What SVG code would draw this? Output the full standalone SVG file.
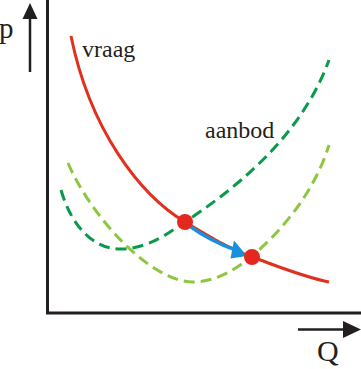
<svg xmlns="http://www.w3.org/2000/svg" width="361" height="369" viewBox="0 0 361 369">
<style>
.lbl{font-family:"Liberation Serif","Times New Roman",serif;fill:#231f20}
.axis{stroke:#231f20;stroke-width:3;fill:none}
.arr{stroke:#231f20;stroke-width:2.5;fill:none}
.head{fill:#231f20}
.curve{fill:none;stroke-width:3;stroke-linecap:butt}
.dot{fill:#e4281e}
</style>
<rect width="361" height="369" fill="#ffffff"/>
<g id="axes">
<path class="axis" d="M47.5,0 V313 H361"/>
</g>
<g id="p-axis-label">
<text class="lbl" x="-1" y="38" font-size="29">p</text>
<line class="arr" x1="30" y1="72" x2="30" y2="16"/>
<polygon class="head" points="30,3 22.5,19 37.5,19"/>
</g>
<g id="q-axis-label">
<line class="arr" x1="298" y1="329.5" x2="346" y2="329.5"/>
<polygon class="head" points="361,329.5 343,321 343,338"/>
<text class="lbl" x="317" y="361" font-size="30">Q</text>
</g>
<g id="connectors">
<path id="aanbod-curve" class="curve" stroke="#0c9a4a" stroke-dasharray="11,6" d="M61,190 C72,228 95,250 122,249 C150,248 170,232 185,222 C230,192 300,140 329,60"/>
<path id="aanbod2-curve" class="curve" stroke="#8dc63f" stroke-dasharray="11,6" d="M68,163 C90,215 150,282 193,282 C215,282 235,270 251,257 C285,228 315,190 329,145"/>
<path id="vraag-curve" class="curve" stroke="#e0301e" d="M71,36 C90,130 140,195 185,222 C215,240 232,250 252,257 C272,264 300,276 329,282"/>
<path id="shift-arrow" fill="none" stroke="#1a8fdc" stroke-width="3.5" d="M188,225 Q212,242 236,250"/>
<polygon fill="#1a8fdc" points="234,240.5 247,256 230.5,258.5"/>
</g>
<g id="eq1"><circle class="dot" cx="185" cy="222" r="8"/></g>
<g id="eq2"><circle class="dot" cx="252" cy="257" r="8"/></g>
<g id="vraag"><text class="lbl" x="82" y="57" font-size="24">vraag</text></g>
<g id="aanbod"><text class="lbl" x="205" y="138" font-size="24">aanbod</text></g>
</svg>
